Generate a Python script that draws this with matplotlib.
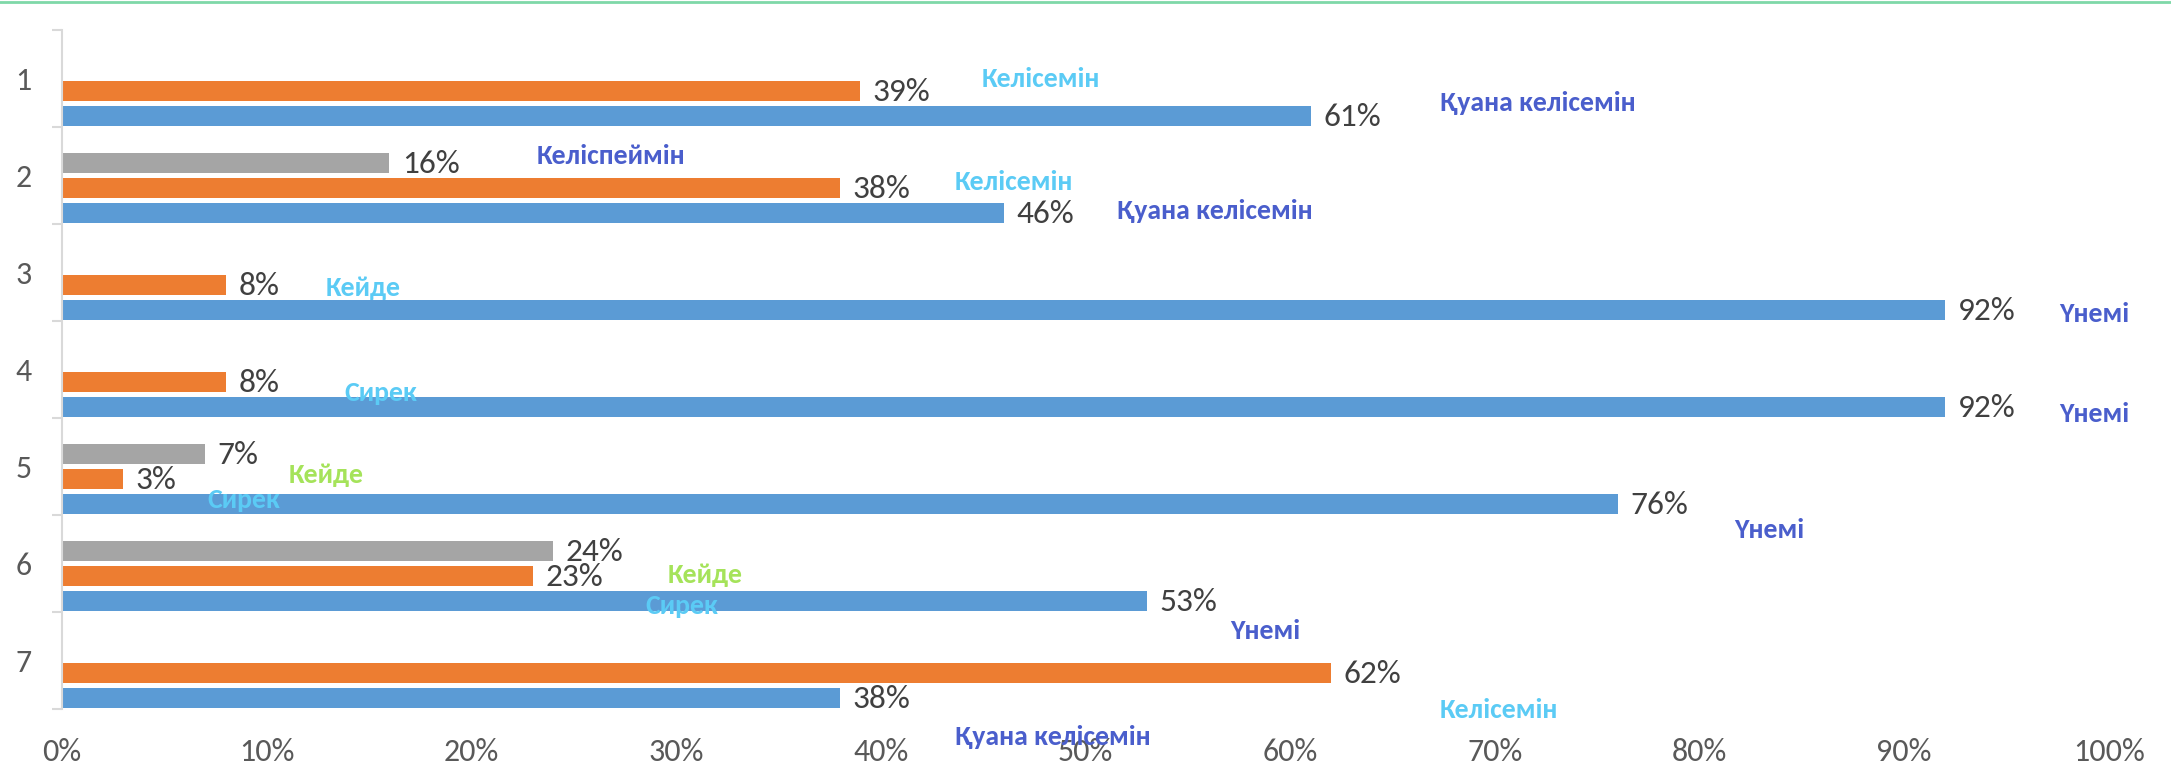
import matplotlib.pyplot as plt
import numpy as np

# question numbers and the three answer series (percent)
questions = ['1', '2', '3', '4', '5', '6', '7']
series1 = [61, 46, 92, 92, 76, 53, 38]          # blue
series2 = [39, 38, 8, 8, 3, 23, 62]             # orange
series3 = [None, 16, None, None, 7, 24, None]   # gray

# free-floating answer captions: (text, x percent, y category, colour key)
caption_text = ['Келісемін', 'Қуана келісемін', 'Келіспеймін', 'Келісемін',
                'Қуана келісемін', 'Кейде', 'Үнемі', 'Сирек', 'Үнемі', 'Кейде',
                'Сирек', 'Үнемі', 'Кейде', 'Сирек', 'Үнемі', 'Келісемін',
                'Қуана келісемін']
caption_x = [47.8, 72.1, 26.8, 46.5, 56.3, 14.7, 99.3, 15.6, 99.3, 12.9,
             8.9, 83.4, 31.4, 30.3, 58.8, 70.2, 48.4]
caption_y = [0.0, 0.257, 0.8, 1.071, 1.371, 2.157, 2.429, 3.243, 3.457, 4.086,
             4.343, 4.657, 5.114, 5.443, 5.7, 6.514, 6.786]
caption_kind = ['light', 'dark', 'dark', 'light', 'dark', 'light', 'dark',
                'light', 'dark', 'green', 'light', 'dark', 'green', 'light',
                'dark', 'light', 'dark']

caption_colors = {'light': '#5BCBF5', 'dark': '#4A5ECC', 'green': '#A5E35A'}

plt.rcParams['font.family'] = ['Carlito', 'Source Sans 3', 'DejaVu Sans']

fig = plt.figure(figsize=(21.71, 7.82), dpi=100)
ax = fig.add_axes([0.02856, 0.0934, 0.9428, 0.8682])

ind = np.arange(len(questions))
h = 0.2
offsets = {'s1': 0.386, 's2': 0.129, 's3': -0.129}
label_color = '#404040'

for vals, off, color in [(series1, offsets['s1'], '#5B9BD5'),
                         (series2, offsets['s2'], '#ED7D31'),
                         (series3, offsets['s3'], '#A5A5A5')]:
    for i, v in enumerate(vals):
        if v is None:
            continue
        ax.barh(ind[i] + off, v, height=h, color=color)
        ax.annotate(f'{v}%', (v, ind[i] + off), xytext=(9, -1),
                    textcoords='offset points', va='center', ha='left',
                    fontsize=24, color=label_color)

for t, x, y, k in zip(caption_text, caption_x, caption_y, caption_kind):
    ax.text(x, y, t, ha='center', va='center', fontsize=20,
            fontweight='bold', color=caption_colors[k])

ax.set_xlim(0, 100)
ax.set_ylim(6.5, -0.5)
ax.set_xticks(np.arange(0, 101, 10))
ax.set_xticklabels([f'{x}%' for x in range(0, 101, 10)])
ax.set_yticks(ind)
ax.set_yticklabels(questions)
ax.set_yticks(np.arange(-0.5, 7, 1), minor=True)

ax.tick_params(axis='x', length=0, pad=21, labelsize=23, labelcolor='#595959')
ax.tick_params(axis='y', which='major', length=0, pad=22, labelsize=23,
               labelcolor='#595959')
ax.tick_params(axis='y', which='minor', length=7, color='#D9D9D9', width=1.5)

for s in ['top', 'right', 'bottom']:
    ax.spines[s].set_visible(False)
ax.spines['left'].set_color('#D9D9D9')
ax.spines['left'].set_linewidth(1.5)

fig.add_artist(plt.Line2D([0, 1], [0.998, 0.998], color='#7FD8A8', lw=2,
                          transform=fig.transFigure))

fig.savefig('out.png', dpi=100)
